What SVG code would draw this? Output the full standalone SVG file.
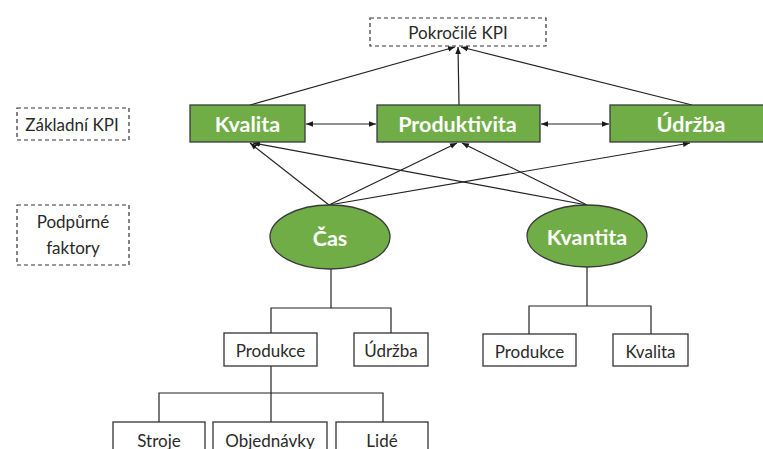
<svg xmlns="http://www.w3.org/2000/svg" width="763" height="449" viewBox="0 0 763 449">
  <defs>
    <marker id="arr" viewBox="0 0 10 10" refX="10" refY="5" markerWidth="7" markerHeight="7" markerUnits="userSpaceOnUse" orient="auto-start-reverse">
      <path d="M0,1 L10,5 L0,9 z" fill="#1a1a1a"/>
    </marker>
    <style>
      .dash { fill: #fff; stroke: #333; stroke-width: 1.2; stroke-dasharray: 4 3; }
      .kpi { fill: #70ad47; stroke: #3a3a3a; stroke-width: 1.3; }
      .box { fill: #fff; stroke: #333; stroke-width: 1.3; }
      .lbl { font-family: Lato, "Liberation Sans", sans-serif; font-size: 17px; fill: #2a2a2a; text-anchor: middle; dominant-baseline: central; }
      .big { font-family: Lato, "Liberation Sans", sans-serif; font-size: 21.5px; font-weight: bold; fill: #fff; text-anchor: middle; dominant-baseline: central; }
      .ln { fill: none; stroke: #222; stroke-width: 1.2; }
      .ar { fill: none; stroke: #222; stroke-width: 1.2; marker-end: url(#arr); }
      .ar2 { fill: none; stroke: #222; stroke-width: 1.2; marker-start: url(#arr); marker-end: url(#arr); }
    </style>
  </defs>
  <rect width="763" height="449" fill="#fff"/>

  <g id="connectors">
    <!-- base KPIs to advanced KPI -->
    <line class="ar" x1="250" y1="105" x2="455" y2="47"/>
    <line class="ar" x1="459" y1="105" x2="458" y2="47"/>
    <line class="ar" x1="692" y1="105" x2="461" y2="47"/>
    <!-- links between base KPIs -->
    <line class="ar2" x1="306" y1="124" x2="376" y2="124"/>
    <line class="ar2" x1="541" y1="124" x2="609" y2="124"/>
    <!-- supporting factors to base KPIs -->
    <line class="ar" x1="329" y1="205" x2="250" y2="143"/>
    <line class="ar" x1="329" y1="205" x2="457" y2="143"/>
    <line class="ar" x1="329" y1="205" x2="690" y2="143"/>
    <line class="ar" x1="587" y1="205" x2="253" y2="143"/>
    <line class="ar" x1="587" y1="205" x2="462" y2="143"/>
    <!-- tree below Čas -->
    <polyline class="ln" points="331,269 331,308"/>
    <polyline class="ln" points="271,333 271,308 391,308 391,333"/>
    <polyline class="ln" points="271,366 271,393"/>
    <polyline class="ln" points="159,422 159,393 383,393 383,422"/>
    <line class="ln" x1="271" y1="393" x2="271" y2="422"/>
    <!-- tree below Kvantita -->
    <polyline class="ln" points="587,267 587,306"/>
    <polyline class="ln" points="529,334 529,306 651,306 651,334"/>
  </g>

  <g id="pokrocile-kpi">
    <rect class="dash" x="370" y="18" width="176" height="28"/>
    <text class="lbl" x="458" y="32">Pokročilé KPI</text>
  </g>
  <g id="zakladni-kpi">
    <rect class="dash" x="17" y="108" width="112" height="32"/>
    <text class="lbl" x="72" y="124">Základní KPI</text>
  </g>
  <g id="podpurne-faktory">
    <rect class="dash" x="17" y="205" width="112" height="60"/>
    <text class="lbl" x="73" y="221">Podpůrné</text>
    <text class="lbl" x="73" y="247">faktory</text>
  </g>

  <g id="kvalita">
    <rect class="kpi" x="190" y="105" width="115" height="37"/>
    <text class="big" x="247.5" y="124">Kvalita</text>
  </g>
  <g id="produktivita">
    <rect class="kpi" x="377" y="105" width="163" height="37"/>
    <text class="big" x="457.5" y="124">Produktivita</text>
  </g>
  <g id="udrzba">
    <rect class="kpi" x="610" y="105" width="160" height="37"/>
    <text class="big" x="691" y="124">Údržba</text>
  </g>

  <g id="cas">
    <ellipse class="kpi" cx="330" cy="237" rx="60" ry="32"/>
    <text class="big" x="330" y="238">Čas</text>
  </g>
  <g id="kvantita">
    <ellipse class="kpi" cx="587" cy="236" rx="60" ry="31"/>
    <text class="big" x="587" y="237">Kvantita</text>
  </g>

  <g id="cas-produkce">
    <rect class="box" x="224" y="333" width="93" height="33"/>
    <text class="lbl" x="270.5" y="350">Produkce</text>
  </g>
  <g id="cas-udrzba">
    <rect class="box" x="354" y="333" width="74" height="33"/>
    <text class="lbl" x="391" y="350">Údržba</text>
  </g>
  <g id="stroje">
    <rect class="box" x="113" y="422" width="92" height="40"/>
    <text class="lbl" x="159" y="440">Stroje</text>
  </g>
  <g id="objednavky">
    <rect class="box" x="213" y="422" width="114" height="40"/>
    <text class="lbl" x="270" y="440">Objednávky</text>
  </g>
  <g id="lide">
    <rect class="box" x="336" y="422" width="92" height="40"/>
    <text class="lbl" x="382" y="440">Lidé</text>
  </g>
  <g id="kvantita-produkce">
    <rect class="box" x="483" y="334" width="93" height="32"/>
    <text class="lbl" x="529.5" y="351">Produkce</text>
  </g>
  <g id="kvantita-kvalita">
    <rect class="box" x="613" y="334" width="75" height="32"/>
    <text class="lbl" x="650.5" y="351">Kvalita</text>
  </g>
</svg>
